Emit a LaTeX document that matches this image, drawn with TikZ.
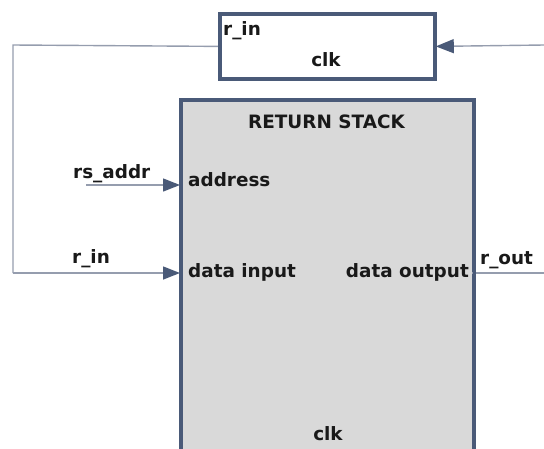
\documentclass[tikz,border=0pt]{standalone}
\usepackage{fontspec}
\setmainfont{DejaVu Sans}
\usetikzlibrary{arrows.meta}
\definecolor{edgeblue}{HTML}{4A5A78}
\definecolor{wireblue}{HTML}{959DAE}
\definecolor{stackgray}{HTML}{D9D9D9}
\tikzset{
  block/.style={draw=edgeblue, line width=2.8pt, inner sep=0pt, anchor=north west},
  lbl/.style={inner sep=0pt, font=\fontsize{18.4}{21}\selectfont\bfseries, text=black!90},
  wire/.style={draw=wireblue, line width=1.4pt},
  tip/.style={-{Triangle[length=17pt,width=13pt,color=edgeblue]}}
}
\begin{document}
\begin{tikzpicture}[x=1pt,y=-1pt]
  \useasboundingbox (0,0) rectangle (544,448);
  \clip (0,0) rectangle (544,448);
  % register block
  \node[block, fill=white, minimum width=214pt, minimum height=64pt] (reg) at (219,13) {};
  \node[lbl, anchor=base west] (regin) at (223,35) {r\_in};
  \node[lbl, anchor=base] (regclk) at (326,66) {clk};
  % return stack block (runs past the lower edge)
  \node[block, fill=stackgray, minimum width=292pt, minimum height=360pt] (stack) at (180,99) {};
  \node[lbl, anchor=base] (title) at (326.5,128) {RETURN STACK};
  \node[lbl, anchor=base west] (addr) at (188,186) {address};
  \node[lbl, anchor=base west] (din) at (188,277) {data input};
  \node[lbl, anchor=base east] (dout) at (469,277) {data output};
  \node[lbl, anchor=base] (sclk) at (328,440) {clk};
  % port positions
  \coordinate (addrport) at (180,185);
  \coordinate (dinport) at (180,273);
  \coordinate (doutport) at (472,273);
  \coordinate (addrsrc) at (86,185);
  \coordinate (loopa) at (13,45);
  \coordinate (loopb) at (13,273);
  \coordinate (rsrc) at (544,45);
  \coordinate (routend) at (544,273);
  % signal labels
  \node[lbl, anchor=base west] (rsaddr) at (73,178) {rs\_addr};
  \node[lbl, anchor=base west] (rin) at (72,263) {r\_in};
  \node[lbl, anchor=base west] (rout) at (480,264) {r\_out};
  % wires
  \draw[wire] (reg.west) -- (loopa) -- (loopb);
  \draw[wire, tip] (loopb) -- (dinport);
  \draw[wire, tip] (addrsrc) -- (addrport);
  \draw[wire, -{Triangle[length=18pt,width=14pt,color=edgeblue]}] (rsrc) -- (reg.east);
  \draw[wire] (doutport) -- (routend);
  % redraw borders over the wire ends
  \draw[edgeblue, line width=2.8pt] (reg.north west) rectangle (reg.south east);
  \draw[edgeblue, line width=2.8pt] (stack.south west) -- (stack.north west) -- (stack.north east) -- (stack.south east);
\end{tikzpicture}
\end{document}
